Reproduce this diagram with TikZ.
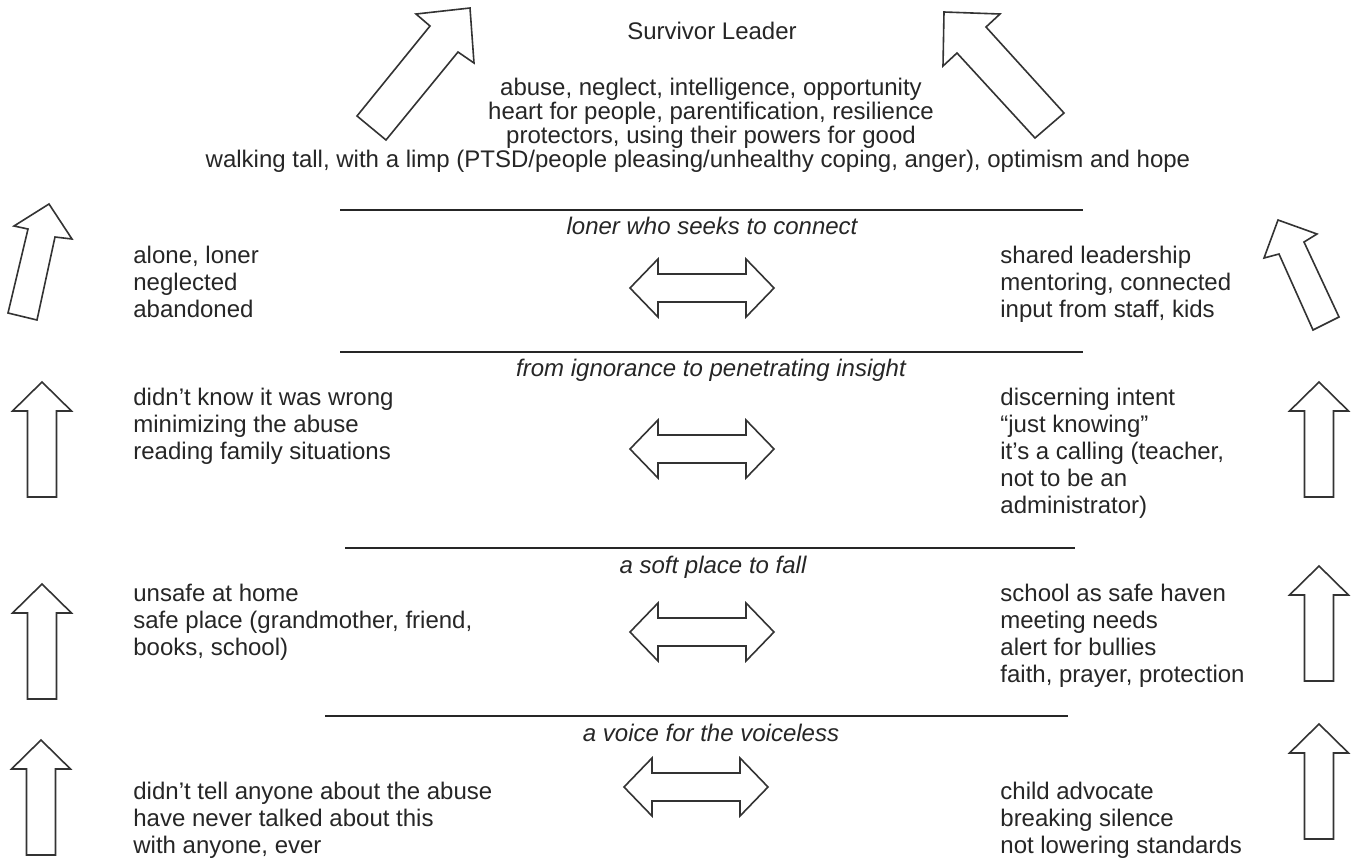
\documentclass[tikz,border=0pt]{standalone}
\usepackage{fontspec}
\setmainfont{Liberation Sans}
\definecolor{ink}{HTML}{262626}
\definecolor{arrowink}{HTML}{333333}
\begin{document}
\begin{tikzpicture}[x=0.5pt,y=-0.5pt,
  outline/.style={draw=arrowink,line width=0.8pt,fill=white,line join=miter},
  sep/.style={draw=ink,line width=0.75pt},
  txt/.style={inner sep=0pt,text=ink,font=\fontsize{12}{12}\selectfont},
  side/.style={txt,anchor=north west,align=left,font=\fontsize{12}{13.5}\selectfont},
  theme/.style={txt,anchor=base,font=\fontsize{12}{12}\selectfont\itshape},
  uparr/.pic={\draw[outline] (0,0) -- (29.5,29) -- (14.5,29) -- (14.5,115) -- (-14.5,115) -- (-14.5,29) -- (-29.5,29) -- cycle;},
  dblarr/.pic={\draw[outline] (-72,0) -- (-44,-29) -- (-44,-14) -- (44,-14) -- (44,-29) -- (72,0) -- (44,29) -- (44,14) -- (-44,14) -- (-44,29) -- cycle;}
]
\useasboundingbox[fill=white] (0,0) rectangle (1355,858);

% top diagonal arrows
\draw[outline] (357,116) -- (430,26) -- (416,14) -- (470,8) -- (474,63) -- (458,52) -- (386,140) -- cycle;
\draw[outline] (1064,113) -- (986,27) -- (1000,14) -- (944,12) -- (943,66) -- (957,53) -- (1035,138) -- cycle;
% tilted side arrows
\draw[outline] (8,313) -- (28,229) -- (14,226) -- (49,204) -- (72,239) -- (55,237) -- (37,320) -- cycle;
\draw[outline] (1313,330) -- (1279,254) -- (1264,258) -- (1278,220) -- (1317,234) -- (1304,242) -- (1339,317) -- cycle;
% straight side arrows
\pic at (42,382) {uparr};
\pic at (42,584) {uparr};
\pic at (41,740) {uparr};
\pic at (1319,382) {uparr};
\pic at (1319,566) {uparr};
\pic at (1319,724) {uparr};
% double arrows
\pic at (702,288) {dblarr};
\pic at (702,449) {dblarr};
\pic at (702,632) {dblarr};
\pic at (696,787) {dblarr};

% separators
\draw[sep] (340,210) -- (1083,210);
\draw[sep] (340,352) -- (1083,352);
\draw[sep] (345,548) -- (1075,548);
\draw[sep] (325,716) -- (1068,716);

% top texts
\node[txt,anchor=base] (title) at (712,39) {Survivor Leader};
\node[txt,anchor=base,align=center] (traits) at (711,143.5) {abuse, neglect, intelligence, opportunity\\heart for people, parentification, resilience\\protectors, using their powers for good};
\node[txt,anchor=base] (walk) at (698,167) {walking tall, with a limp (PTSD/people pleasing/unhealthy coping, anger), optimism and hope};

% themes
\node[theme] (t1) at (712,234) {loner who seeks to connect};
\node[theme] (t2) at (711,376) {from ignorance to penetrating insight};
\node[theme] (t3) at (713,573) {a soft place to fall};
\node[theme] (t4) at (711,741) {a voice for the voiceless};

% left column
\node[side] (l1) at (133,246) {alone, loner\\neglected\\abandoned};
\node[side] (l2) at (133,388) {didn’t know it was wrong\\minimizing the abuse\\reading family situations};
\node[side] (l3) at (133,584) {unsafe at home\\safe place (grandmother, friend,\\books, school)};
\node[side] (l4) at (133,782) {didn’t tell anyone about the abuse\\have never talked about this\\with anyone, ever};

% right column
\node[side] (r1) at (1000,246) {shared leadership\\mentoring, connected\\input from staff, kids};
\node[side] (r2) at (1000,388) {discerning intent\\“just knowing”\\it’s a calling (teacher,\\not to be an\\administrator)};
\node[side] (r3) at (1000,584) {school as safe haven\\meeting needs\\alert for bullies\\faith, prayer, protection};
\node[side] (r4) at (1000,782) {child advocate\\breaking silence\\not lowering standards};
\end{tikzpicture}
\end{document}
